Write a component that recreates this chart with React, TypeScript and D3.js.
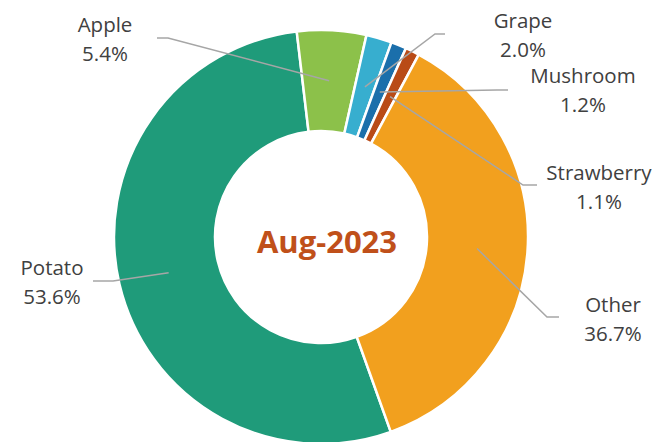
import React from "react";
import * as d3 from "d3";

const categories = ["Potato", "Apple", "Grape", "Mushroom", "Strawberry", "Other"];
const shares = [53.6, 5.4, 2.0, 1.2, 1.1, 36.7];
const title = "Aug-2023";

const colors = ["#1f9b7a", "#8cc14a", "#37aecf", "#1b6fab", "#b94b17", "#f2a01e"];

// label layout: label anchor (center x, first baseline), elbow & end of leader line
const labelLayout = [
  { x: 52, y: 275, elbow: [113, 281], end: [93, 281] },
  { x: 105, y: 32, elbow: [168, 38], end: [157, 38] },
  { x: 523, y: 28, elbow: [435, 34], end: [445, 34] },
  { x: 583, y: 83, elbow: [497, 90], end: [508, 90] },
  { x: 599, y: 180, elbow: [523, 185], end: [537, 185] },
  { x: 613, y: 312, elbow: [547, 317], end: [559, 317] },
];

const W = 657;
const H = 442;
const cx = 321;
const cy = 237;
const outerR = 207;
const innerR = 106;
const startDeg = 160.3;

export default function App() {
  const data = categories.map((c, i) => ({ name: c, value: shares[i] }));
  const start = (startDeg * Math.PI) / 180;
  const pie = d3
    .pie<{ name: string; value: number }>()
    .sort(null)
    .value((d) => d.value)
    .startAngle(start)
    .endAngle(start + 2 * Math.PI);
  const arcs = pie(data);
  const arc = d3
    .arc<d3.PieArcDatum<{ name: string; value: number }>>()
    .innerRadius(innerR)
    .outerRadius(outerR);
  const line = d3.line();

  return (
    <div style={{ position: "absolute", left: 0, top: 0, width: W, height: H, overflow: "hidden" }}>
      <svg width={W} height={H} style={{ display: "block", background: "#ffffff" }}>
        <g transform={`translate(${cx},${cy})`}>
          {arcs.map((a, i) => (
            <path key={i} d={arc(a) || ""} fill={colors[i]} stroke="#ffffff" strokeWidth={2.5} />
          ))}
        </g>
        {arcs.map((a, i) => {
          const [px, py] = arc.centroid(a);
          const L = labelLayout[i];
          const pts: [number, number][] = [
            [px + cx, py + cy],
            [L.elbow[0], L.elbow[1]],
            [L.end[0], L.end[1]],
          ];
          return (
            <path key={"l" + i} d={line(pts) || ""} fill="none" stroke="#a6a6a6" strokeWidth={1.5} />
          );
        })}
        {arcs.map((a, i) => {
          const L = labelLayout[i];
          return (
            <text
              key={"t" + i}
              x={L.x}
              y={L.y}
              textAnchor="middle"
              fontFamily="'Open Sans', sans-serif"
              fontSize={20.5}
              fill="#404040"
            >
              <tspan x={L.x} y={L.y}>{a.data.name}</tspan>
              <tspan x={L.x} y={L.y + 29}>{a.data.value.toFixed(1) + "%"}</tspan>
            </text>
          );
        })}
        <text
          x={327}
          y={253}
          textAnchor="middle"
          fontFamily="'Open Sans', sans-serif"
          fontWeight="bold"
          fontSize={31}
          fill="#c0501a"
        >
          {title}
        </text>
      </svg>
    </div>
  );
}
